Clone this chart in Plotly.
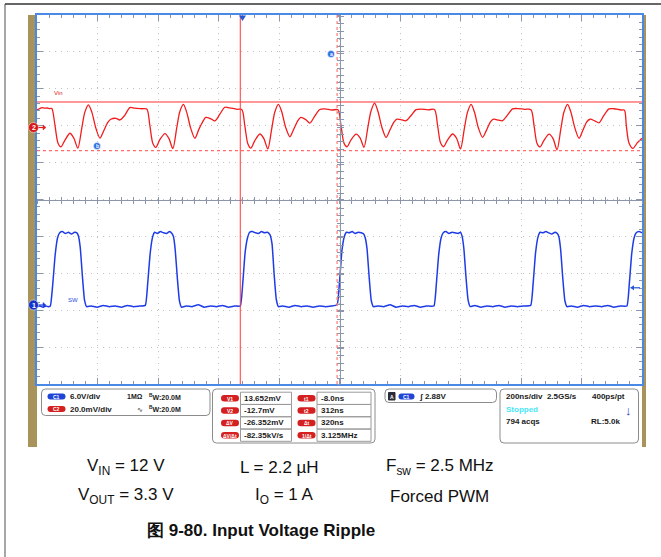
import plotly.graph_objects as go

W, H = 661, 557

# ---- scope settings ----
CH1_V_DIV = 6.0        # SW, V/div
CH1_ZERO_DIV = -2.87   # ground marker position, divisions from centre
CH2_MV_DIV = 20.0      # Vin, mV/div
CH2_ZERO_DIV = 1.96
T_LEFT, NS_DIV = -680, 200

# cursors
V1, V2 = 13.652, -12.7     # mV
T1, T2 = -8.0, 312.0       # ns

# CH2: input voltage ripple (mV) vs time (ns)
ch2_t = [-680, -672, -664, -655, -646, -638,
         -631, -621, -611, -601, -588, -571, -558, -545, -532, -522, -510, -499, -486, -472, -459, -446, -436, -419, -406, -390, -373, -357, -333,
         -317, -307, -297, -287, -274, -257, -244, -231, -218, -208, -196, -185, -172, -158, -145, -132, -122, -105, -92, -76, -59, -43, -19,
         -3, 7, 17, 27, 40, 57, 70, 83, 96, 106, 118, 129, 142, 156, 169, 182, 192, 209, 222, 238, 255, 271, 295,
         315, 325, 335, 345, 358, 375, 388, 401, 414, 424, 436, 447, 460, 474, 487, 500, 510, 527, 540, 556, 573, 589, 613,
         634, 644, 654, 664, 677, 694, 707, 720, 733, 743, 755, 766, 779, 793, 806, 819, 829, 846, 859, 875, 892, 908, 932,
         953, 963, 973, 983, 996, 1013, 1026, 1039, 1052, 1062, 1074, 1085, 1098, 1112, 1125, 1138, 1148, 1165, 1178, 1194, 1211, 1227, 1251,
         1262, 1268, 1277, 1290, 1305, 1320]
ch2_mv = [9.4, 10.0, 10.6, 10.3, 10.4, 10.1,
          10.1, 1.5, -8.4, -10.7, -7.2, -3.3, -6.0, -11.4, -0.6, 8.0, 12.1, 8.3, -0.2, -5.9, -1.8, 2.6, 4.3, 4.8, 3.9, 6.4, 10.6, 10.3, 10.0,
          9.8, 1.0, -8.8, -10.9, -6.8, -3.5, -6.1, -11.6, -0.3, 8.4, 12.4, 8.0, -0.5, -6.0, -1.2, 3.0, 5.3, 4.5, 3.4, 6.9, 10.8, 10.5, 9.7,
          9.6, 0.8, -9.0, -11.4, -7.3, -3.7, -6.2, -11.8, -0.8, 8.1, 12.4, 8.4, -0.1, -5.2, -1.0, 3.4, 5.3, 4.0, 2.2, 6.0, 9.6, 9.9, 9.3,
          9.4, 0.9, -8.7, -10.6, -6.9, -3.8, -5.8, -10.9, 0.2, 8.6, 13.0, 8.6, 0.0, -5.5, -1.4, 2.7, 4.3, 3.9, 3.5, 6.2, 9.5, 9.8, 9.4,
          9.6, 1.3, -8.5, -10.6, -7.0, -3.7, -6.0, -11.8, -0.5, 8.0, 12.4, 8.2, -0.3, -5.5, -1.6, 2.9, 4.3, 3.8, 3.5, 6.5, 9.9, 10.1, 9.7,
          9.5, 1.0, -8.8, -10.7, -7.1, -3.8, -6.2, -12.3, -0.7, 8.2, 12.4, 8.1, -0.4, -6.0, -1.5, 3.0, 4.3, 3.3, 2.4, 6.4, 9.9, 10.0, 9.3,
          9.2, 1.0, -8.6, -11.5, -8.4, -6.0]

# CH1: switch node (V) vs time (ns)
ch1_t = [-680, -670, -660, -650, -643,
         -636, -628, -620, -612, -605, -596, -586, -576, -566, -556, -548, -543, -537, -530, -523, -516, -501, -481, -461, -441, -421, -401, -381, -361, -341,
         -322, -314, -306, -298, -291, -282, -272, -262, -252, -242, -234, -229, -223, -216, -209, -202, -187, -167, -147, -127, -107, -87, -67, -47, -27,
         -8, 0, 8, 16, 23, 32, 42, 52, 62, 72, 82, 90, 97, 104, 111, 118, 133, 153, 173, 193, 213, 233, 253, 273, 293,
         312, 320, 328, 336, 343, 352, 362, 372, 382, 392, 400, 405, 411, 418, 425, 432, 447, 467, 487, 507, 527, 547, 567, 587, 607,
         632, 640, 648, 656, 663, 672, 682, 692, 702, 712, 720, 725, 731, 738, 745, 752, 767, 787, 807, 827, 847, 867, 887, 907, 927,
         952, 960, 968, 976, 983, 992, 1002, 1012, 1022, 1032, 1040, 1045, 1051, 1058, 1065, 1072, 1087, 1107, 1127, 1147, 1167, 1187, 1207, 1227, 1247,
         1270, 1278, 1286, 1294, 1301, 1310, 1320]
ch1_v = [-0.2, -0.1, -0.3, -0.1, -0.2,
         -0.1, 3.4, 8.2, 11.0, 11.8, 12.0, 11.7, 11.9, 11.6, 11.9, 11.8, 11.3, 9.4, 4.8, 0.9, -0.2, -0.1, -0.3, 0.0, -0.2, -0.1, -0.3, 0.0, -0.2, -0.1,
         0.0, 3.6, 8.4, 11.1, 11.9, 11.7, 12.0, 11.8, 11.7, 12.0, 11.7, 11.2, 9.0, 4.4, 0.7, -0.3, -0.1, -0.2, 0.1, -0.3, -0.1, -0.2, 0.0, -0.3, -0.1,
         -0.1, 3.5, 8.6, 11.0, 11.9, 12.0, 11.8, 11.7, 12.0, 11.8, 11.9, 11.5, 10.0, 5.0, 1.0, -0.2, -0.1, -0.3, 0.0, -0.2, -0.1, -0.3, -0.1, -0.2, -0.1,
         0.1, 3.8, 8.9, 11.2, 11.9, 11.8, 12.0, 11.7, 11.9, 11.8, 11.6, 11.0, 9.2, 4.6, 0.8, -0.2, -0.1, -0.2, 0.1, -0.3, -0.1, -0.2, 0.0, -0.3, -0.1,
         -0.1, 3.4, 8.3, 11.0, 11.8, 12.0, 11.7, 11.9, 11.8, 11.7, 11.9, 11.3, 9.3, 4.7, 0.9, -0.2, 0.0, -0.3, -0.1, -0.2, 0.0, -0.3, -0.1, -0.2, -0.1,
         0.0, 3.5, 8.5, 11.1, 11.9, 11.8, 12.0, 11.8, 11.6, 11.9, 11.7, 11.2, 9.1, 4.5, 0.8, -0.2, -0.1, -0.3, 0.0, -0.2, -0.1, -0.2, 0.0, -0.3, -0.1,
         -0.1, 3.5, 8.4, 11.0, 11.8, 12.0, 11.8]

trig_level = 2.88

# caption lines
cond_row1 = ["V<sub>IN</sub> = 12 V", "L = 2.2 µH", "F<sub>sw</sub> = 2.5 MHz"]
cond_row2 = ["V<sub>OUT</sub> = 3.3 V", "I<sub>O</sub> = 1 A", "Forced PWM"]
caption = "图 9-80. Input Voltage Ripple"


def px(x):
    return x / W


def py(y):
    return 1 - y / H


def rrect(x0, y0, x1, y1, r):
    return (f"M{px(x0 + r)},{py(y0)} L{px(x1 - r)},{py(y0)} Q{px(x1)},{py(y0)} {px(x1)},{py(y0 + r)} "
            f"L{px(x1)},{py(y1 - r)} Q{px(x1)},{py(y1)} {px(x1 - r)},{py(y1)} "
            f"L{px(x0 + r)},{py(y1)} Q{px(x0)},{py(y1)} {px(x0)},{py(y1 - r)} "
            f"L{px(x0)},{py(y0 + r)} Q{px(x0)},{py(y0)} {px(x0 + r)},{py(y0)} Z")


FONT = "Liberation Sans, Arial, sans-serif"
shapes, annos = [], []


def text(x, y, s, size=8, color="#1a1a1a", anchor="left", bold=True):
    annos.append(dict(x=px(x), y=py(y), xref="paper", yref="paper", showarrow=False,
                      text=f"<b>{s}</b>" if bold else s, xanchor=anchor, yanchor="middle",
                      font=dict(family=FONT, size=size, color=color)))


def pill(xc, yc, w, h, color, s):
    shapes.append(dict(type="path", xref="paper", yref="paper",
                       path=rrect(xc - w / 2, yc - h / 2, xc + w / 2, yc + h / 2, h / 2),
                       fillcolor=color, line=dict(width=0)))
    text(xc, yc + 0.3, s, size=5, color="white", anchor="center")


def rect(x0, y0, x1, y1, fill=None, line="#9a9a9a", width=1, layer="above"):
    shapes.append(dict(type="rect", xref="paper", yref="paper", x0=px(x0), x1=px(x1), y0=py(y1), y1=py(y0),
                       fillcolor=fill or "rgba(0,0,0,0)", line=dict(color=line, width=width), layer=layer))


def marker(xc, yc, r, color, s, size=7):
    shapes.append(dict(type="circle", xref="paper", yref="paper", x0=px(xc - r), x1=px(xc + r),
                       y0=py(yc + r), y1=py(yc - r), fillcolor=color, line=dict(color="white", width=0.5)))
    text(xc, yc + 0.3, s, size=size, color="white", anchor="center")


def arrow_right(x0, x1, y, color):
    shapes.append(dict(type="line", xref="paper", yref="paper", x0=px(x0), x1=px(x1 - 2), y0=py(y), y1=py(y),
                       line=dict(color=color, width=1.2)))
    shapes.append(dict(type="path", xref="paper", yref="paper",
                       path=f"M{px(x1 - 3)},{py(y - 2.5)} L{px(x1)},{py(y)} L{px(x1 - 3)},{py(y + 2.5)} Z",
                       fillcolor=color, line=dict(color=color, width=0.5)))


# ---- background: page frame, tan screenshot border, white screen ----
shapes.append(dict(type="line", xref="paper", yref="paper", x0=px(5), x1=px(5), y0=py(4), y1=py(560),
                   line=dict(color="#8a8a8a", width=1.5)))
shapes.append(dict(type="line", xref="paper", yref="paper", x0=px(5), x1=px(664), y0=py(4), y1=py(4),
                   line=dict(color="#333333", width=1.5)))
rect(28, 15, 646, 447, fill="#a8935b", line="#a8935b", width=0, layer="below")
rect(37, 15, 642, 447, fill="white", line="white", width=0, layer="below")

# ---- cursors ----
shapes += [
    dict(type="line", xref="paper", yref="y", x0=px(37), x1=px(642), y0=V1, y1=V1,
         line=dict(color="#ff3030", width=1)),
    dict(type="line", xref="paper", yref="y", x0=px(37), x1=px(642), y0=V2, y1=V2,
         line=dict(color="#ff6a6a", width=1.2, dash="dot")),
    dict(type="line", xref="x", yref="paper", x0=T1, x1=T1, y0=py(384), y1=py(15),
         line=dict(color="#ff3a3a", width=1)),
    dict(type="line", xref="x", yref="paper", x0=T2, x1=T2, y0=py(384), y1=py(15),
         line=dict(color="#ff7a7a", width=1.2, dash="dot")),
]
# trigger position marker (top) and trigger level arrow (right)
shapes.append(dict(type="path", xref="paper", yref="paper",
                   path=f"M{px(239)},{py(15.5)} L{px(246)},{py(15.5)} L{px(242.5)},{py(21)} Z",
                   fillcolor="#2456d8", line=dict(width=0)))
y_trig = 305.5 - trig_level / CH1_V_DIV * 36.9
shapes.append(dict(type="line", xref="paper", yref="paper", x0=px(633), x1=px(640), y0=py(y_trig), y1=py(y_trig),
                   line=dict(color="#2456d8", width=1.2)))
shapes.append(dict(type="path", xref="paper", yref="paper",
                   path=f"M{px(630)},{py(y_trig)} L{px(634)},{py(y_trig - 2.5)} L{px(634)},{py(y_trig + 2.5)} Z",
                   fillcolor="#2456d8", line=dict(width=0)))

# channel markers and labels
arrow_right(37, 46, 127.5, "#e02020")
marker(33.5, 127.5, 5, "#d81818", "2")
arrow_right(37, 46, 305, "#1e3fd8")
marker(33.5, 305, 5, "#1634c8", "1")
marker(331, 54, 3.5, "#2e6fe0", "a", size=5)
marker(97, 146, 3.5, "#2e6fe0", "b", size=5)
text(52, 93, "Vin", size=6, color="#e02020", bold=False)
text(66, 300, "SW", size=6, color="#2a4ce0", bold=False)

# ---- readout panels ----
shapes.append(dict(type="path", xref="paper", yref="paper", path=rrect(41.5, 389, 210, 415.5, 4),
                   line=dict(color="#8c8c8c", width=1)))
pill(56.5, 396.5, 18, 6, "#1f44d6", "C1")
text(67.5, 396.5, f"{CH1_V_DIV:.1f}V/div")
text(145, 396.5, "1MΩ", size=7, anchor="right")
text(147, 396.5, "<sup>B</sup>W:20.0M", size=7)
pill(56.5, 409, 18, 6, "#d42020", "C2")
text(67.5, 409, f"{CH2_MV_DIV:.1f}mV/div")
text(140, 409, "∿", size=7, bold=False, anchor="center")
text(147, 409, "<sup>B</sup>W:20.0M", size=7)

shapes.append(dict(type="path", xref="paper", yref="paper", path=rrect(212.5, 389, 375, 443, 4),
                   line=dict(color="#8c8c8c", width=1)))
dv = V2 - V1                 # mV
dt = T2 - T1                 # ns
meas_left = [("V1", f"{V1:.3f}mV"), ("V2", f"{V2:.1f}mV"), ("ΔV", f"{dv:.3f}mV"),
             ("ΔV/Δt", f"{dv / dt * 1000:.2f}kV/s")]
meas_right = [("t1", f"{T1:.1f}ns"), ("t2", f"{T2:.0f}ns"), ("Δt", f"{dt:.0f}ns"),
              ("1/Δt", f"{1000 / dt:.3f}MHz")]
for i, ((la, va), (lb, vb)) in enumerate(zip(meas_left, meas_right)):
    yc = 398.3 + i * 12.3
    pill(230, yc, 18, 6.5, "#d42020", la)
    rect(240.5, yc - 6.1, 291.5, yc + 6.1)
    text(242, yc, va)
    pill(306.5, yc, 18, 6.5, "#d42020", lb)
    rect(317, yc - 6.1, 371, yc + 6.1)
    text(318.5, yc, vb)

shapes.append(dict(type="path", xref="paper", yref="paper", path=rrect(385, 389, 496.5, 402.5, 4),
                   line=dict(color="#8c8c8c", width=1)))
rect(388.5, 392.5, 395, 400, fill="#2b2b3a", line="#2b2b3a")
text(391.8, 396.5, "A", size=5, color="white", anchor="center")
pill(406.5, 396.5, 16, 6, "#1f44d6", "C1")
text(417, 396.5, f"ʃ {trig_level:.2f}V")

shapes.append(dict(type="path", xref="paper", yref="paper", path=rrect(500, 389, 638.5, 443, 4),
                   line=dict(color="#8c8c8c", width=1)))
text(504, 396.5, "200ns/div  2.5GS/s")
text(627, 396.5, "400ps/pt", anchor="right")
text(504, 409.3, "Stopped", color="#45e6f5")
text(628.5, 410, "↓", size=13, color="#1f3fc8", anchor="center")
text(504, 421.7, "794 acqs")
text(589, 421.7, "RL:5.0k")

# ---- caption ----
for xc, s in zip([126, 279, 440], cond_row1):
    text(xc, 467, s, size=17, color="#111111", anchor="center", bold=False)
for xc, s in zip([126, 284, 439], cond_row2):
    text(xc, 496, s, size=17, color="#111111", anchor="center", bold=False)
text(261, 530, caption, size=17, color="#111111", anchor="center")

# ---- traces ----
fig = go.Figure()
fig.add_trace(go.Scatter(x=ch2_t, y=ch2_mv, mode="lines",
                         line=dict(color="#f21c1c", width=1.3, shape="spline", smoothing=0.8),
                         xaxis="x", yaxis="y", name="Vin"))
fig.add_trace(go.Scatter(x=ch1_t, y=ch1_v, mode="lines",
                         line=dict(color="#1e3ce6", width=1.5, shape="spline", smoothing=0.4),
                         xaxis="x", yaxis="y2", name="SW"))
for xa, ya in [("x2", "y"), ("x3", "y"), ("x", "y3"), ("x", "y4")]:
    fig.add_trace(go.Scatter(x=[], y=[], xaxis=xa, yaxis=ya, showlegend=False, hoverinfo="skip"))

x_rng = [T_LEFT, T_LEFT + 10 * NS_DIV]
y_rng = [(-5 - CH2_ZERO_DIV) * CH2_MV_DIV, (5 - CH2_ZERO_DIV) * CH2_MV_DIV]
y1_rng = [(-5 - CH1_ZERO_DIV) * CH1_V_DIV, (5 - CH1_ZERO_DIV) * CH1_V_DIV]
y_tick0 = -CH2_ZERO_DIV * CH2_MV_DIV
TICK = "#8c96aa"
x_dom = [px(37), px(642)]
y_dom = [py(384), py(15)]

common_x = dict(range=x_rng, tick0=T_LEFT, dtick=NS_DIV, showticklabels=False, zeroline=False, fixedrange=True)
common_y = dict(range=y_rng, tick0=y_tick0, dtick=CH2_MV_DIV, showticklabels=False, zeroline=False, fixedrange=True)


def centre(ticks):
    return dict(ticks=ticks, ticklen=3, tickcolor=TICK, showline=True, linecolor=TICK, linewidth=1,
                showgrid=False, anchor="free")


fig.update_layout(
    width=W, height=H,
    margin=dict(l=0, r=0, t=0, b=0),
    paper_bgcolor="white", plot_bgcolor="rgba(0,0,0,0)",
    showlegend=False, hovermode=False,
    xaxis=dict(domain=x_dom, showgrid=True, gridcolor="#c2c2c2", griddash="1px,5px", gridwidth=1,
               ticks="inside", ticklen=6, tickcolor=TICK,
               minor=dict(dtick=NS_DIV / 5, tick0=T_LEFT, ticks="inside", ticklen=3, tickcolor=TICK),
               showline=True, linecolor="#4a8ae6", linewidth=2, mirror="ticks", anchor="y", **common_x),
    yaxis=dict(domain=y_dom, showgrid=True, gridcolor="#c2c2c2", griddash="1px,5px", gridwidth=1,
               ticks="inside", ticklen=6, tickcolor=TICK,
               minor=dict(dtick=CH2_MV_DIV / 5, tick0=y_tick0, ticks="inside", ticklen=3, tickcolor=TICK),
               showline=True, linecolor="#4a8ae6", linewidth=2, mirror="ticks", anchor="x", **common_y),
    yaxis2=dict(overlaying="y", range=y1_rng, visible=False, fixedrange=True, anchor="x"),
    xaxis2=dict(overlaying="x", position=py(199.5), minor=dict(dtick=NS_DIV / 5, ticks="outside", ticklen=3,
                tickcolor=TICK), **centre("outside"), **common_x),
    xaxis3=dict(overlaying="x", position=py(199.5), minor=dict(dtick=NS_DIV / 5, ticks="inside", ticklen=3,
                tickcolor=TICK), **centre("inside"), **common_x),
    yaxis3=dict(overlaying="y", position=px(339.5), minor=dict(dtick=CH2_MV_DIV / 5, ticks="outside", ticklen=3,
                tickcolor=TICK), **centre("outside"), **common_y),
    yaxis4=dict(overlaying="y", position=px(339.5), minor=dict(dtick=CH2_MV_DIV / 5, ticks="inside", ticklen=3,
                tickcolor=TICK), **centre("inside"), **common_y),
    shapes=shapes,
    annotations=annos,
)

fig.write_html("out.html", config={"displayModeBar": False},
               post_script="document.body.style.margin='0';")
